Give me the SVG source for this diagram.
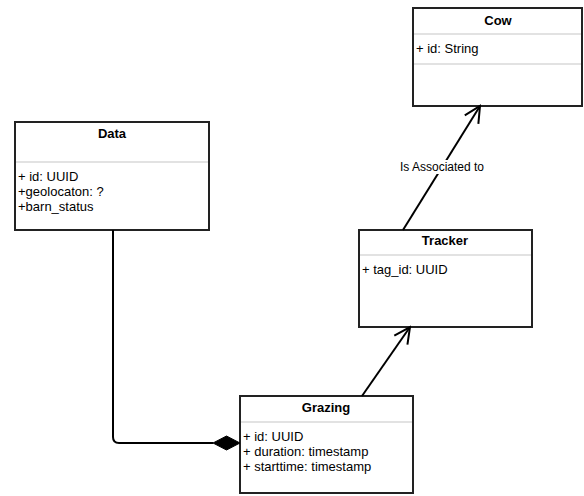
<svg xmlns="http://www.w3.org/2000/svg" width="584" height="496" viewBox="0 0 584 496">
<style>
.box{fill:#fff;stroke:#222;stroke-width:2}
.div{stroke:#d8d8d8;stroke-width:1.5}
.t{font-family:"Liberation Sans",Arial,sans-serif;font-size:13px;font-weight:bold;fill:#000;text-anchor:middle}
.a{font-family:"Liberation Sans",Arial,sans-serif;font-size:13px;fill:#000}
.l{font-family:"Liberation Sans",Arial,sans-serif;font-size:12px;fill:#000;text-anchor:middle}
.c{fill:none;stroke:#000;stroke-width:2}
</style>
<defs>
<marker id="open" viewBox="0 0 20 20" refX="18" refY="10" markerWidth="20" markerHeight="20" markerUnits="userSpaceOnUse" orient="auto">
<path d="M2,2 L18,10 L2,18" fill="none" stroke="#000" stroke-width="2"/>
</marker>
</defs>
<g id="Cow">
<rect class="box" x="413" y="8" width="169" height="98"/>
<line class="div" x1="414" y1="34" x2="581" y2="34"/>
<line class="div" x1="414" y1="64" x2="581" y2="64"/>
<text class="t" x="498" y="25">Cow</text>
<text class="a" x="416" y="53">+ id: String</text>
</g>
<g id="Data">
<rect class="box" x="15" y="122" width="194" height="108"/>
<line class="div" x1="16" y1="162" x2="208" y2="162"/>
<text class="t" x="112" y="138">Data</text>
<text class="a" x="18" y="181">+ id: UUID</text>
<text class="a" x="18" y="196">+geolocaton: ?</text>
<text class="a" x="18" y="211">+barn_status</text>
</g>
<g id="Tracker">
<rect class="box" x="359" y="230" width="173" height="97"/>
<line class="div" x1="360" y1="255" x2="531" y2="255"/>
<text class="t" x="445" y="245">Tracker</text>
<text class="a" x="362" y="274">+ tag_id: UUID</text>
</g>
<g id="Grazing">
<rect class="box" x="240" y="396" width="173" height="97"/>
<line class="div" x1="241" y1="422" x2="412" y2="422"/>
<text class="t" x="326" y="412">Grazing</text>
<text class="a" x="243" y="441">+ id: UUID</text>
<text class="a" x="243" y="456">+ duration: timestamp</text>
<text class="a" x="243" y="471">+ starttime: timestamp</text>
</g>
<g id="connectors">
<path class="c" d="M113,230 L113,437 Q113,443 119,443 L213,443"/>
<path d="M213,443 L226.5,436 L240,443 L226.5,450 Z" fill="#000" stroke="#000" stroke-width="1"/>
<line class="c" x1="362" y1="396" x2="410" y2="327" marker-end="url(#open)"/>
<line class="c" x1="403" y1="230" x2="480" y2="106" marker-end="url(#open)"/>
<rect x="395" y="160" width="94" height="14" fill="#fff"/>
<text class="l" x="442" y="171">Is Associated to</text>
</g>
</svg>
